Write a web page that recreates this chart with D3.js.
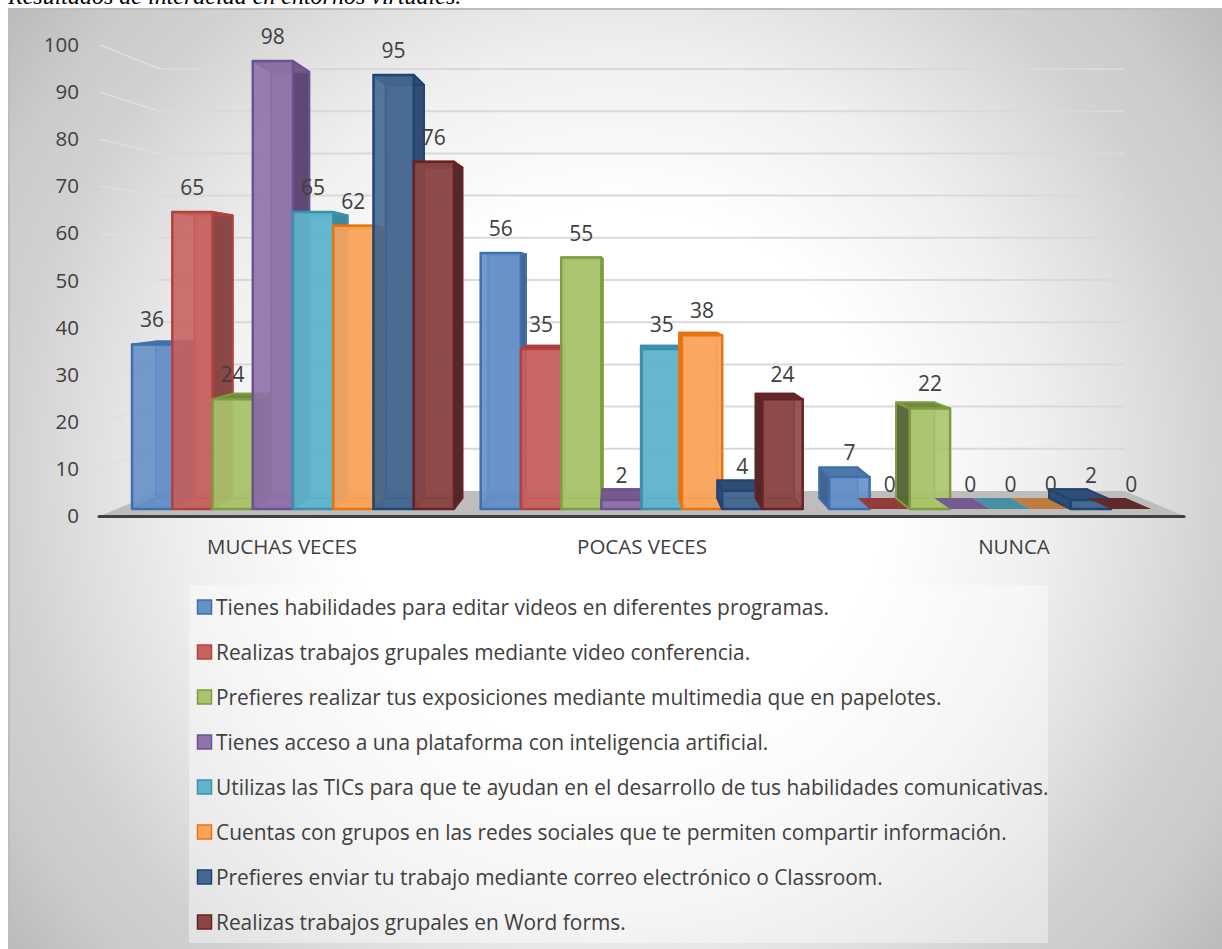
<!DOCTYPE html>
<html><head><meta charset="utf-8">
<script src="https://cdn.jsdelivr.net/npm/d3@7/dist/d3.min.js"></script>
<style>html,body{margin:0;padding:0;background:#fff;overflow:hidden}svg{display:block}</style>
</head><body><svg id="c" width="1222" height="949"></svg>
<script>
const categories = ["MUCHAS VECES","POCAS VECES","NUNCA"];
const seriesNames = [
 "Tienes habilidades para editar videos en diferentes programas.",
 "Realizas trabajos grupales mediante video conferencia.",
 "Prefieres realizar tus exposiciones mediante multimedia que en papelotes.",
 "Tienes acceso a una plataforma con inteligencia artificial.",
 "Utilizas las TICs para que te ayudan en el desarrollo de tus habilidades comunicativas.",
 "Cuentas con grupos en las redes sociales que te permiten compartir información.",
 "Prefieres enviar tu trabajo mediante correo electrónico o Classroom.",
 "Realizas trabajos grupales en Word forms."];
const s1 = [36,56,7];
const s2 = [65,35,0];
const s3 = [24,55,22];
const s4 = [98,2,0];
const s5 = [65,35,0];
const s6 = [62,38,0];
const s7 = [95,4,2];
const s8 = [76,24,0];
const seriesValues = [s1,s2,s3,s4,s5,s6,s7,s8];
const yTicks = [0,10,20,30,40,50,60,70,80,90,100];
const frontColors = ["#6590c6","#c66360","#a8c46c","#8e72a9","#60b5cd","#f9a45c","#456790","#8a4746"];
const edgeColors  = ["#3f70ab","#b5413e","#7f9c41","#6d5190","#3a91aa","#e9730c","#1f4573","#692222"];
const sideColors  = ["#3f6090","#874341","#56643a","#594470","#3a8498","#c07a38","#2f4a72","#4a2626"];
const topColors   = ["#4f76a8","#933c3a","#6f8a3c","#745a8e","#468fa5","#c07c3e","#2f4d75","#5e2a2a"];

const svg = d3.select("#c");
const defs = svg.append("defs");
const g = defs.append("radialGradient").attr("id","bg").attr("gradientUnits","userSpaceOnUse").attr("cx",615).attr("cy",480).attr("r",780);
[[0,"#ffffff"],[.35,"#ffffff"],[.55,"#efefef"],[.686,"#dedede"],[.78,"#d1d1d1"],[.87,"#cbcbcb"],[.98,"#bbbbbb"]].forEach(d=>g.append("stop").attr("offset",d[0]).attr("stop-color",d[1]));

const FONT = "'Open Sans',sans-serif";
svg.append("text").attr("x",8).attr("y",4).attr("font-family","'Liberation Serif',serif").attr("font-style","italic")
  .attr("font-size",24).attr("fill","#000").text("Resultados de interacida en entornos virtuales.");
svg.append("rect").attr("x",8).attr("y",9).attr("width",1214).attr("height",940).attr("fill","url(#bg)");
svg.append("rect").attr("x",8).attr("y",8).attr("width",1214).attr("height",2).attr("fill","#bdbdbd");
svg.append("rect").attr("x",8).attr("y",8).attr("width",2).attr("height",941).attr("fill","#bdbdbd");

// Scales
const yFront = d3.scaleLinear().domain([0,100]).range([509,52]);
const yWall  = d3.scaleLinear().domain([0,100]).range([491,69]);
const yLeft  = d3.scaleLinear().domain([0,100]).range([516,45]);
const xCat   = d3.scaleBand().domain(categories).range([119,1165]).paddingInner(0).paddingOuter(0);
const xSer   = d3.scaleBand().domain(d3.range(8)).range([0,322]).padding(0);
const catOff = 13;
const VX=625, VY=283, K=0.0487;
const back = ([x,y]) => [x+K*(VX-x), y+K*(VY-y)];
const pts = a => a.map(p=>p.map(v=>v.toFixed(1)).join(",")).join(" ");

// Walls
const wallX0=160, wallX1=1125, leftX=100;
const floor = svg.append("g");
floor.append("polygon").attr("points",pts([[wallX0,yWall(0)],[wallX1,yWall(0)],[1184,yLeft(0)],[leftX,yLeft(0)]])).attr("fill","#bdbdbd");
const grid = svg.append("g");
yTicks.filter(d=>d>0).forEach(t=>{
  grid.append("line").attr("x1",wallX0).attr("x2",wallX1).attr("y1",yWall(t)).attr("y2",yWall(t)).attr("stroke","#d9d9d9").attr("stroke-width",2);
  grid.append("line").attr("x1",leftX).attr("x2",wallX0).attr("y1",yLeft(t)).attr("y2",yWall(t)).attr("stroke","#dfdfdf").attr("stroke-width",1.5);
});
svg.append("line").attr("x1",99).attr("x2",1184).attr("y1",516.5).attr("y2",516.5).attr("stroke","#404040").attr("stroke-width",3).attr("stroke-linecap","round");

// Bars
const barsG = svg.append("g");
seriesValues.forEach((vals,si)=>{
  vals.forEach((v,ci)=>{
    const x0 = xCat(categories[ci])+catOff+xSer(si), x1 = x0+xSer.bandwidth();
    const yb = yFront(0), yt = yFront(v);
    const A=[x0,yt],B=[x1,yt],C=[x1,yb],D=[x0,yb];
    const a=back(A),b=back(B),c=back(C),d=back(D);
    const bar = barsG.append("g").attr("stroke-linejoin","round");
    const edge = edgeColors[si];
    if(v===0){ bar.append("polygon").attr("points",pts([D,C,c,d])).attr("fill",topColors[si]); return; }
    // floor of bar
    bar.append("polygon").attr("points",pts([D,C,c,d])).attr("fill",frontColors[si]).attr("fill-opacity",.85).attr("stroke",edge).attr("stroke-width",2);
    // back face
    bar.append("polygon").attr("points",pts([a,b,c,d])).attr("fill",frontColors[si]).attr("fill-opacity",.7).attr("stroke",edge).attr("stroke-width",2);
    // side face
    const side = x0 < VX && x1 < VX ? [B,C,c,b] : (x0 > VX ? [A,D,d,a] : null);
    if(side) bar.append("polygon").attr("points",pts(side)).attr("fill",sideColors[si]).attr("fill-opacity",.95).attr("stroke",edge).attr("stroke-width",2);
    // top face
    bar.append("polygon").attr("points",pts([A,B,b,a])).attr("fill",topColors[si]).attr("stroke",edge).attr("stroke-width",2);
    // front face
    bar.append("polygon").attr("points",pts([A,B,C,D])).attr("fill",frontColors[si]).attr("fill-opacity",.9).attr("stroke",edge).attr("stroke-width",2.5);
  });
});

// Data labels
const lab = svg.append("g").attr("font-family",FONT).attr("font-size",21).attr("fill","#404040").attr("text-anchor","middle");
seriesValues.forEach((vals,si)=>vals.forEach((v,ci)=>{
  lab.append("text").attr("x",xCat(categories[ci])+catOff+xSer(si)+xSer.bandwidth()/2).attr("y",yFront(v)-17).text(v);
}));

// Value axis
const yAxis = d3.axisLeft(yLeft).tickValues(yTicks).tickSize(0).tickPadding(0);
const ax = svg.append("g").attr("transform","translate(79,0)").call(yAxis);
ax.select(".domain").remove();
ax.selectAll("text").attr("font-family",FONT).attr("font-size",20.5).attr("fill","#404040");

// Category axis labels
const xLabel = d3.scaleOrdinal().domain(categories).range([282,642,1014]);
svg.append("g").attr("font-family",FONT).attr("font-size",20.5).attr("fill","#404040").attr("text-anchor","middle")
  .selectAll("text").data(categories).join("text").attr("x",d=>xLabel(d)).attr("y",554).text(d=>d);

// Legend
svg.append("rect").attr("x",189).attr("y",585).attr("width",859).attr("height",358).attr("fill","#fff").attr("fill-opacity",.4);
const yLeg = d3.scalePoint().domain(d3.range(8)).range([607,922]);
const leg = svg.append("g").selectAll("g").data(seriesNames).join("g").attr("transform",(d,i)=>`translate(0,${yLeg(i)})`);
leg.append("rect").attr("x",197.5).attr("y",-7).attr("width",14).attr("height",14).attr("fill",(d,i)=>frontColors[i]).attr("stroke",(d,i)=>edgeColors[i]).attr("stroke-width",1.5);
leg.append("text").attr("x",216).attr("y",7.5).attr("font-family",FONT).attr("font-size",20.9).attr("fill","#404040").text(d=>d);
</script></body></html>
